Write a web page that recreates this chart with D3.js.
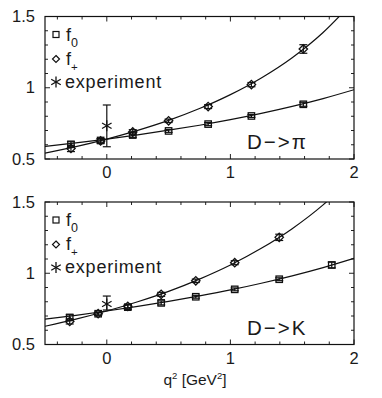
<!DOCTYPE html>
<html>
<head>
<meta charset="utf-8">
<script src="https://cdn.jsdelivr.net/npm/d3@7"></script>
<style>
body { margin: 0; background: #fff; }
text { font-family: "Liberation Sans", Arial, sans-serif; fill: #1a1a1a; }
</style>
</head>
<body>
<svg id="chart" width="382" height="398"></svg>
<script>
// ---- data ----
// D -> pi
var qPi = [-0.29, -0.05, 0.21, 0.50, 0.82, 1.17, 1.59]
var f0Pi = [0.603, 0.630, 0.668, 0.697, 0.745, 0.802, 0.884]
var f0PiErr = [0.018, 0.012, 0.016, 0.010, 0.011, 0.010, 0.014]
var fpPi = [0.574, 0.627, 0.690, 0.768, 0.868, 1.022, 1.272]
var fpPiErr = [0.022, 0.016, 0.016, 0.012, 0.014, 0.015, 0.030]
var expPi = [0, 0.734, 0.586, 0.879]   // q2, value, low, high

// D -> K
var qKf0 = [-0.30, -0.07, 0.17, 0.44, 0.72, 1.035, 1.395, 1.82]
var f0K = [0.690, 0.716, 0.762, 0.792, 0.835, 0.887, 0.958, 1.058]
var f0KErr = [0.018, 0.010, 0.016, 0.014, 0.010, 0.010, 0.010, 0.020]
var qKfp = [-0.30, -0.07, 0.17, 0.44, 0.72, 1.035, 1.395]
var fpK = [0.662, 0.716, 0.768, 0.852, 0.947, 1.074, 1.252]
var fpKErr = [0.018, 0.010, 0.012, 0.014, 0.012, 0.014, 0.022]
var expK = [0, 0.784, 0.742, 0.840]

// fitted curves
var qFit = [-0.5, -0.25, 0, 0.25, 0.5, 0.75, 1.0, 1.25, 1.5, 1.75, 2.0]
var fitF0Pi = [0.588, 0.613, 0.640, 0.669, 0.702, 0.737, 0.776, 0.820, 0.869, 0.924, 0.986]
var fitFpPi = [0.541, 0.587, 0.640, 0.701, 0.771, 0.854, 0.952, 1.069, 1.211, 1.388, 1.610]
var fitF0K = [0.678, 0.705, 0.735, 0.767, 0.802, 0.841, 0.883, 0.930, 0.982, 1.040, 1.105]
var fitFpK = [0.628, 0.678, 0.735, 0.800, 0.873, 0.959, 1.058, 1.175, 1.313, 1.480, 1.685]

var xTickLabels = [0, 1, 2]
var yTickLabels = [0.5, 1, 1.5]

var panels = [
    { id: 'pi', top: 16.5, bottom: 159, label: 'D\u2212>\u03c0',
      f0: [qPi, f0Pi, f0PiErr], fp: [qPi, fpPi, fpPiErr], exp: expPi,
      fit0: fitF0Pi, fitP: fitFpPi, xTitle: false },
    { id: 'k', top: 202, bottom: 344.5, label: 'D\u2212>K',
      f0: [qKf0, f0K, f0KErr], fp: [qKfp, fpK, fpKErr], exp: expK,
      fit0: fitF0K, fitP: fitFpK, xTitle: true }
]

var svg = d3.select('#chart')
var left = 45, right = 354
var ink = '#111'

var x = d3.scaleLinear().domain([-0.5, 2]).range([left, right])

function zip(xs, ys) { return xs.map((d, i) => [d, ys[i]]) }

panels.forEach(p => {
    var y = d3.scaleLinear().domain([0.5, 1.5]).range([p.bottom, p.top])
    var g = svg.append('g')

    svg.append('clipPath').attr('id', 'clip-' + p.id)
        .append('rect')
        .attr('x', left).attr('y', p.top)
        .attr('width', right - left).attr('height', p.bottom - p.top)

    // ticks, inward on every side
    var xMinor = d3.range(-0.4, 2.01, 0.2)
    var yMinor = d3.range(0.5, 1.501, 0.1)
    var tk = g.append('g').attr('stroke', '#222').attr('stroke-width', 1)
    xMinor.forEach(v => {
        var major = Math.abs(v - Math.round(v)) < 1e-6
        var len = major ? 5 : 3
        tk.append('line').attr('x1', x(v)).attr('x2', x(v))
            .attr('y1', p.bottom).attr('y2', p.bottom - len)
        tk.append('line').attr('x1', x(v)).attr('x2', x(v))
            .attr('y1', p.top).attr('y2', p.top + len)
    })
    yMinor.forEach(v => {
        var major = Math.abs(v * 2 - Math.round(v * 2)) < 1e-6
        var len = major ? 5 : 3
        tk.append('line').attr('x1', left).attr('x2', left + len)
            .attr('y1', y(v)).attr('y2', y(v))
        tk.append('line').attr('x1', right).attr('x2', right - len)
            .attr('y1', y(v)).attr('y2', y(v))
    })

    // frame
    g.append('rect')
        .attr('x', left).attr('y', p.top)
        .attr('width', right - left).attr('height', p.bottom - p.top)
        .attr('fill', 'none').attr('stroke', ink).attr('stroke-width', 1.2)

    // tick labels
    g.selectAll('.xl').data(xTickLabels).enter().append('text')
        .attr('x', d => x(d)).attr('y', p.bottom + 19)
        .attr('text-anchor', 'middle').attr('font-size', 16.5)
        .text(d => d)
    g.selectAll('.yl').data(yTickLabels).enter().append('text')
        .attr('x', 35).attr('y', d => y(d) + 5.5)
        .attr('text-anchor', 'end').attr('font-size', 16.5)
        .text(d => d)

    // fit curves
    var line = d3.line().x(d => x(d[0])).y(d => y(d[1])).curve(d3.curveMonotoneX)
    var curves = g.append('g').attr('clip-path', `url(#clip-${p.id})`)
    curves.append('path').datum(zip(qFit, p.fit0)).attr('d', line)
        .attr('fill', 'none').attr('stroke', ink).attr('stroke-width', 1.2)
    curves.append('path').datum(zip(qFit, p.fitP)).attr('d', line)
        .attr('fill', 'none').attr('stroke', ink).attr('stroke-width', 1.2)

    // error bars
    function errBars(set) {
        var pts = set[0].map((q, i) => ({ q: q, v: set[1][i], e: set[2][i] }))
        var eg = g.append('g').attr('stroke', ink).attr('stroke-width', 1.2)
        pts.forEach(d => {
            var cx = x(d.q), lo = y(d.v - d.e), hi = y(d.v + d.e)
            eg.append('line').attr('x1', cx).attr('x2', cx).attr('y1', lo).attr('y2', hi)
            eg.append('line').attr('x1', cx - 4).attr('x2', cx + 4).attr('y1', lo).attr('y2', lo)
            eg.append('line').attr('x1', cx - 4).attr('x2', cx + 4).attr('y1', hi).attr('y2', hi)
        })
        return pts
    }
    var sq = errBars(p.f0)
    var dm = errBars(p.fp)

    g.selectAll('.sq').data(sq).enter().append('rect')
        .attr('x', d => x(d.q) - 3.2).attr('y', d => y(d.v) - 3.2)
        .attr('width', 6.4).attr('height', 6.4)
        .attr('fill', 'none').attr('stroke', ink).attr('stroke-width', 1.3)
    g.selectAll('.dm').data(dm).enter().append('path')
        .attr('d', d => {
            var cx = x(d.q), cy = y(d.v)
            return `M${cx},${cy - 4.2}L${cx + 4.2},${cy}L${cx},${cy + 4.2}L${cx - 4.2},${cy}Z`
        })
        .attr('fill', 'none').attr('stroke', ink).attr('stroke-width', 1.3)

    // experiment point
    var ex = x(p.exp[0])
    var eg = g.append('g').attr('stroke', ink).attr('stroke-width', 1.2)
    eg.append('line').attr('x1', ex).attr('x2', ex).attr('y1', y(p.exp[2])).attr('y2', y(p.exp[3]))
    eg.append('line').attr('x1', ex - 4).attr('x2', ex + 4).attr('y1', y(p.exp[2])).attr('y2', y(p.exp[2]))
    eg.append('line').attr('x1', ex - 4).attr('x2', ex + 4).attr('y1', y(p.exp[3])).attr('y2', y(p.exp[3]))
    star(eg, ex, y(p.exp[1]), 5.5)

    // legend
    var lx = 56
    g.append('rect').attr('x', lx - 3).attr('y', p.top + 15).attr('width', 6).attr('height', 6)
        .attr('fill', 'none').attr('stroke', ink).attr('stroke-width', 1.2)
    var t0 = g.append('text').attr('x', 66).attr('y', p.top + 24).attr('font-size', 18)
    t0.append('tspan').text('f')
    t0.append('tspan').attr('font-size', 12.5).attr('dy', 6).text('0')

    var dy = p.top + 42.5
    g.append('path').attr('d', `M${lx},${dy - 3.5}L${lx + 3.5},${dy}L${lx},${dy + 3.5}L${lx - 3.5},${dy}Z`)
        .attr('fill', 'none').attr('stroke', ink).attr('stroke-width', 1.2)
    var tp = g.append('text').attr('x', 66).attr('y', p.top + 48).attr('font-size', 18)
    tp.append('tspan').text('f')
    tp.append('tspan').attr('font-size', 11.5).attr('dy', 6).text('+')

    var sg = g.append('g').attr('stroke', ink).attr('stroke-width', 1.3)
    star(sg, lx, p.top + 65.5, 5.5)
    g.append('text').attr('x', 65).attr('y', p.top + 71).attr('font-size', 18)
        .attr('letter-spacing', 0.8).text('experiment')

    // panel label
    g.append('text').attr('x', 247).attr('y', p.bottom - 10).attr('font-size', 20.5)
        .attr('letter-spacing', 2).text(p.label)

    if (p.xTitle) {
        var xt = g.append('text').attr('x', 195).attr('y', p.bottom + 40)
            .attr('text-anchor', 'middle').attr('font-size', 15.5)
        xt.append('tspan').text('q')
        xt.append('tspan').attr('font-size', 9.5).attr('dy', -6).text('2')
        xt.append('tspan').attr('dy', 6).text(' [GeV')
        xt.append('tspan').attr('font-size', 9.5).attr('dy', -6).text('2')
        xt.append('tspan').attr('dy', 6).text(']')
    }
})

function star(sel, cx, cy, r) {
    [90, 30, 150].forEach(a => {
        var rad = a * Math.PI / 180
        var dx = r * Math.cos(rad), dy = r * Math.sin(rad)
        sel.append('line')
            .attr('x1', cx - dx).attr('y1', cy - dy)
            .attr('x2', cx + dx).attr('y2', cy + dy)
    })
}
</script>
</body>
</html>
